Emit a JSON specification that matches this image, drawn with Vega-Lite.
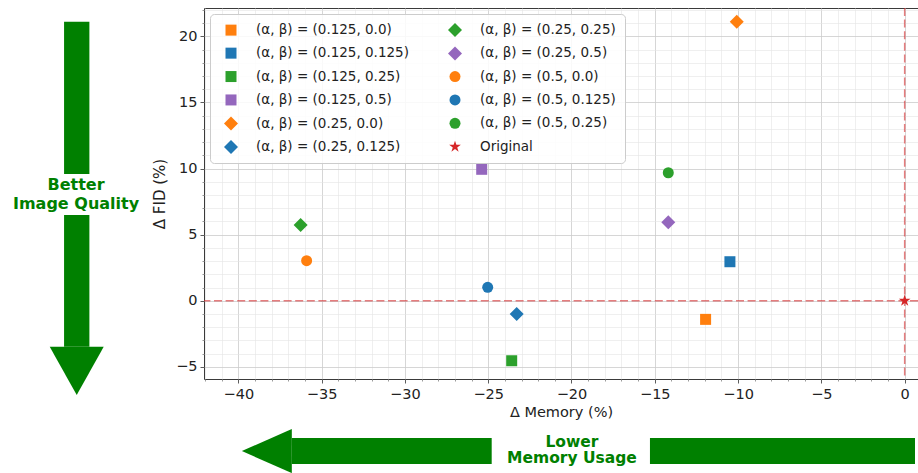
{
  "$schema": "https://vega.github.io/schema/vega-lite/v6.json",
  "width": 714,
  "height": 371,
  "autosize": {"type": "none"},
  "padding": {"left": 204, "top": 8, "right": 0, "bottom": 94},
  "background": "white",
  "config": {
    "font": "DejaVu Sans",
    "view": {"stroke": "#3a3a3a", "strokeWidth": 1},
    "axis": {"labelFont": "DejaVu Sans", "titleFont": "DejaVu Sans", "labelColor": "#222222", "titleColor": "#222222", "titleFontWeight": "normal", "labelFlush": false}
  },
  "data": {
    "values": [
      {"label": "(α, β) = (0.125, 0.0)", "mem": -11.95, "fid": -1.41},
      {"label": "(α, β) = (0.125, 0.125)", "mem": -10.49, "fid": 2.95},
      {"label": "(α, β) = (0.125, 0.25)", "mem": -23.59, "fid": -4.54},
      {"label": "(α, β) = (0.125, 0.5)", "mem": -25.39, "fid": 9.94},
      {"label": "(α, β) = (0.25, 0.0)", "mem": -10.08, "fid": 21.1},
      {"label": "(α, β) = (0.25, 0.125)", "mem": -23.29, "fid": -1.0},
      {"label": "(α, β) = (0.25, 0.25)", "mem": -36.26, "fid": 5.73},
      {"label": "(α, β) = (0.25, 0.5)", "mem": -14.19, "fid": 5.93},
      {"label": "(α, β) = (0.5, 0.0)", "mem": -35.9, "fid": 3.03},
      {"label": "(α, β) = (0.5, 0.125)", "mem": -25.03, "fid": 1.01},
      {"label": "(α, β) = (0.5, 0.25)", "mem": -14.19, "fid": 9.68},
      {"label": "Original", "mem": 0, "fid": 0}
    ]
  },
  "layer": [
    {
      "mark": {"type": "point", "opacity": 0},
      "encoding": {
        "x": {"field": "mem", "type": "quantitative",
          "scale": {"domain": [-42.06, 0.8], "nice": false, "zero": false},
          "axis": {"orient": "bottom", "values": [-42,-41,-39,-38,-37,-36,-34,-33,-32,-31,-29,-28,-27,-26,-24,-23,-22,-21,-19,-18,-17,-16,-14,-13,-12,-11,-9,-8,-7,-6,-4,-3,-2,-1],
            "labels": false, "title": null, "domain": false, "grid": true, "gridColor": "#e4e4e4", "gridWidth": 0.6, "tickSize": 2, "tickColor": "#555555", "tickWidth": 0.6}},
        "y": {"field": "fid", "type": "quantitative",
          "scale": {"domain": [-5.92, 22.14], "nice": false, "zero": false},
          "axis": {"orient": "left", "values": [-4,-3,-2,-1,1,2,3,4,6,7,8,9,11,12,13,14,16,17,18,19,21,22],
            "labels": false, "title": null, "domain": false, "grid": true, "gridColor": "#e4e4e4", "gridWidth": 0.6, "tickSize": 2, "tickColor": "#555555", "tickWidth": 0.6}}
      }
    },
    {
      "data": {"values": [{}]},
      "mark": {"type": "rule", "color": "#d62728", "opacity": 0.6, "strokeDash": [8, 3.6], "strokeWidth": 1.5},
      "encoding": {"y": {"datum": 0, "axis": null}}
    },
    {
      "data": {"values": [{}]},
      "mark": {"type": "rule", "color": "#d62728", "opacity": 0.6, "strokeDash": [8, 3.6], "strokeWidth": 1.5},
      "encoding": {"x": {"datum": 0, "axis": null}}
    },
    {
      "mark": {"type": "point", "filled": true, "opacity": 1, "strokeWidth": 0},
      "encoding": {
        "x": {"field": "mem", "type": "quantitative",
          "scale": {"domain": [-42.06, 0.8], "nice": false, "zero": false},
          "axis": {"orient": "bottom", "values": [-40,-35,-30,-25,-20,-15,-10,-5,0], "format": "d",
            "title": "Δ Memory (%)", "labelFontSize": 14.5, "titleFontSize": 14.5, "labelPadding": 4, "titlePadding": 5,
            "domain": false, "grid": true, "gridColor": "#cccccc", "gridWidth": 0.8, "tickSize": 4, "tickColor": "#333333", "tickWidth": 0.8}},
        "y": {"field": "fid", "type": "quantitative",
          "scale": {"domain": [-5.92, 22.14], "nice": false, "zero": false},
          "axis": {"orient": "left", "values": [-5,0,5,10,15,20], "format": "d",
            "title": "Δ FID (%)", "labelFontSize": 14.5, "titleFontSize": 15, "labelPadding": 3, "titlePadding": 8,
            "domain": false, "grid": true, "gridColor": "#cccccc", "gridWidth": 0.8, "tickSize": 4, "tickColor": "#333333", "tickWidth": 0.8}},
        "color": {"field": "label", "type": "nominal",
          "scale": {
            "domain": ["(α, β) = (0.125, 0.0)", "(α, β) = (0.125, 0.125)", "(α, β) = (0.125, 0.25)", "(α, β) = (0.125, 0.5)", "(α, β) = (0.25, 0.0)", "(α, β) = (0.25, 0.125)", "(α, β) = (0.25, 0.25)", "(α, β) = (0.25, 0.5)", "(α, β) = (0.5, 0.0)", "(α, β) = (0.5, 0.125)", "(α, β) = (0.5, 0.25)", "Original"],
            "range": ["#ff7f0e", "#1f77b4", "#2ca02c", "#9467bd", "#ff7f0e", "#1f77b4", "#2ca02c", "#9467bd", "#ff7f0e", "#1f77b4", "#2ca02c", "#d62728"]
          },
          "legend": {"title": null, "orient": "top-left", "offset": 6, "columns": 2, "labelFontSize": 13.5, "labelFont": "DejaVu Sans", "labelColor": "#222222", "labelLimit": 400,
            "padding": 9, "rowPadding": 8.4, "columnPadding": 34, "labelOffset": 18, "symbolOffset": 5, "strokeColor": "#cccccc", "fillColor": "rgba(255,255,255,0.85)", "cornerRadius": 4, "symbolStrokeWidth": 0, "symbolOpacity": 1}
        },
        "shape": {"field": "label", "type": "nominal",
          "scale": {
            "domain": ["(α, β) = (0.125, 0.0)", "(α, β) = (0.125, 0.125)", "(α, β) = (0.125, 0.25)", "(α, β) = (0.125, 0.5)", "(α, β) = (0.25, 0.0)", "(α, β) = (0.25, 0.125)", "(α, β) = (0.25, 0.25)", "(α, β) = (0.25, 0.5)", "(α, β) = (0.5, 0.0)", "(α, β) = (0.5, 0.125)", "(α, β) = (0.5, 0.25)", "Original"],
            "range": ["square", "square", "square", "square", "diamond", "diamond", "diamond", "diamond", "circle", "circle", "circle", "M0,-1L0.2245,-0.309L0.951,-0.309L0.363,0.118L0.588,0.809L0,0.382L-0.588,0.809L-0.363,0.118L-0.951,-0.309L-0.2245,-0.309Z"]
          }
        },
        "size": {"field": "label", "type": "nominal",
          "scale": {
            "type": "ordinal",
            "domain": ["(α, β) = (0.125, 0.0)", "(α, β) = (0.125, 0.125)", "(α, β) = (0.125, 0.25)", "(α, β) = (0.125, 0.5)", "(α, β) = (0.25, 0.0)", "(α, β) = (0.25, 0.125)", "(α, β) = (0.25, 0.25)", "(α, β) = (0.25, 0.5)", "(α, β) = (0.5, 0.0)", "(α, β) = (0.5, 0.125)", "(α, β) = (0.5, 0.25)", "Original"],
            "range": [121, 121, 121, 121, 196, 196, 196, 196, 121, 121, 121, 150]
          }
        }
      }
    },
    {
      "data": {"values": [{}]},
      "mark": {"type": "rect", "color": "green", "opacity": 1},
      "encoding": {"x": {"datum": -50.46, "axis": null}, "x2": {"datum": -48.94}, "y": {"datum": 21.1, "axis": null}, "y2": {"datum": 9.58}}
    },
    {
      "data": {"values": [{}]},
      "mark": {"type": "rect", "color": "green", "opacity": 1},
      "encoding": {"x": {"datum": -50.46, "axis": null}, "x2": {"datum": -48.94}, "y": {"datum": 6.48, "axis": null}, "y2": {"datum": -3.48}}
    },
    {
      "data": {"values": [{}]},
      "mark": {"type": "point", "shape": "M-1,0L1,0L0,1.79Z", "size": 2916, "filled": true, "color": "green", "opacity": 1, "strokeWidth": 0},
      "encoding": {"x": {"datum": -49.7, "axis": null}, "y": {"datum": -3.48, "axis": null}}
    },
    {
      "data": {"values": [{}]},
      "mark": {"type": "text", "text": "Better", "font": "DejaVu Sans", "fontWeight": "bold", "fontSize": 16, "color": "green", "align": "center", "baseline": "alphabetic"},
      "encoding": {"x": {"datum": -49.74, "axis": null}, "y": {"datum": 8.37, "axis": null}}
    },
    {
      "data": {"values": [{}]},
      "mark": {"type": "text", "text": "Image Quality", "font": "DejaVu Sans", "fontWeight": "bold", "fontSize": 16, "color": "green", "align": "center", "baseline": "alphabetic"},
      "encoding": {"x": {"datum": -49.74, "axis": null}, "y": {"datum": 6.94, "axis": null}}
    },
    {
      "data": {"values": [{}]},
      "mark": {"type": "rect", "color": "green", "opacity": 1},
      "encoding": {"x": {"datum": -36.79, "axis": null}, "x2": {"datum": -24.79}, "y": {"datum": -10.39, "axis": null}, "y2": {"datum": -12.35}}
    },
    {
      "data": {"values": [{}]},
      "mark": {"type": "rect", "color": "green", "opacity": 1},
      "encoding": {"x": {"datum": -15.29, "axis": null}, "x2": {"datum": 0.62}, "y": {"datum": -10.39, "axis": null}, "y2": {"datum": -12.35}}
    },
    {
      "data": {"values": [{}]},
      "mark": {"type": "point", "shape": "M0,-1L0,1L-2.27,0Z", "size": 1936, "filled": true, "color": "green", "opacity": 1, "strokeWidth": 0},
      "encoding": {"x": {"datum": -36.79, "axis": null}, "y": {"datum": -11.37, "axis": null}}
    },
    {
      "data": {"values": [{}]},
      "mark": {"type": "text", "text": "Lower", "font": "DejaVu Sans", "fontWeight": "bold", "fontSize": 15.5, "color": "green", "align": "center", "baseline": "alphabetic"},
      "encoding": {"x": {"datum": -19.97, "axis": null}, "y": {"datum": -11.07, "axis": null}}
    },
    {
      "data": {"values": [{}]},
      "mark": {"type": "text", "text": "Memory Usage", "font": "DejaVu Sans", "fontWeight": "bold", "fontSize": 15.5, "color": "green", "align": "center", "baseline": "alphabetic"},
      "encoding": {"x": {"datum": -19.97, "axis": null}, "y": {"datum": -12.3, "axis": null}}
    }
  ],
  "resolve": {"axis": {"x": "independent", "y": "independent"}}
}
